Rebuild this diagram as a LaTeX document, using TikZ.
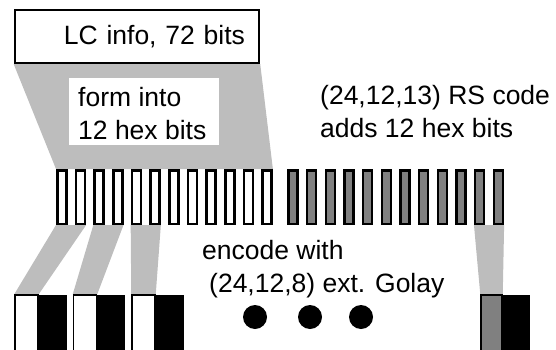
\documentclass[tikz,border=0pt]{standalone}
\usepackage{fontspec}
\setmainfont{Liberation Sans}
\usetikzlibrary{backgrounds}
\definecolor{funnelgray}{RGB}{189,189,189}
\definecolor{rsgray}{RGB}{128,128,128}
\newcommand{\lcfont}{\fontsize{26.5}{32.5}\selectfont}

\begin{document}
\begin{tikzpicture}[x=1pt,y=-1pt,
    txt/.style={anchor=base west,inner sep=0pt,align=left,font=\lcfont},
    hexbit/.style={draw,line width=2.5pt,fill=white,minimum width=9pt,minimum height=53.5pt,inner sep=0pt},
    rsbit/.style={hexbit,fill=rsgray},
    word/.style={draw,line width=1.5pt,fill=white,minimum width=23pt,minimum height=57pt,inner sep=0pt},
    parity/.style={fill=black,minimum width=28pt,minimum height=57pt,inner sep=0pt,anchor=west},
    bigdot/.style={circle,fill=black,minimum size=24pt,inner sep=0pt},
    funnel/.style={fill=funnelgray}]
  \path[use as bounding box,clip] (0,0) rectangle (556,350);

  % LC info box:
  \node[draw,line width=2.5pt,minimum width=244pt,minimum height=53pt,inner xsep=14pt,
        text width=216pt,align=right,font=\lcfont] (lc) at (137,36.5) {LC info, 72 bits};

  % hex bits:
  \foreach \i in {1,...,12}
    \node[hexbit] (w\i) at ({61.75+18.67*(\i-1)},197) {};
  \foreach \i in {1,...,12}
    \node[rsbit] (g\i) at ({293+18.67*(\i-1)},197) {};

  % Golay code words:
  \foreach \i in {1,2,3} {
    \node[word] (c\i) at ({26.5+58.5*(\i-1)},323.5) {};
    \node[parity] (p\i) at (c\i.east) {};
  }
  \node[word,fill=rsgray,minimum width=21pt] (c4) at (491.5,323.5) {};
  \node[parity,minimum width=27pt] (p4) at (c4.east) {};

  \node[bigdot] (d1) at (255,317) {};
  \node[bigdot] (d2) at (310,317) {};
  \node[bigdot] (d3) at (361,317) {};

  % labels (base = last line):
  \node[fill=white,minimum width=150pt,minimum height=67pt,inner sep=0pt] (hexbox) at (144,111.5) {};
  \node[txt] (hex) at (78,139) {form into\\12 hex bits};
  \node[txt] (rs) at (320,137) {(24,12,13) RS code\\adds 12 hex bits};
  \node[txt] (enc) at (202,292) {encode with\\\hspace*{7pt}(24,12,8) ext. Golay};

  \begin{scope}[on background layer]
      % funnels:
      \path[funnel] (lc.south west) -- (lc.south east) -- (w12.north east) -- (w1.north west) -- cycle;
      \path[funnel] (w1.south west) -- (w2.south east) -- (c1.north east) -- (c1.north west) -- cycle;
      \path[funnel] (w3.south west) -- (w4.south east) -- (c2.north east) -- (c2.north west) -- cycle;
      \path[funnel] (w5.south west) -- (w6.south east) -- (c3.north east) -- (c3.north west) -- cycle;
      \path[funnel] (g11.south west) -- (g12.south east) -- (c4.north east) -- (c4.north west) -- cycle;
  \end{scope}
\end{tikzpicture}
\end{document}
